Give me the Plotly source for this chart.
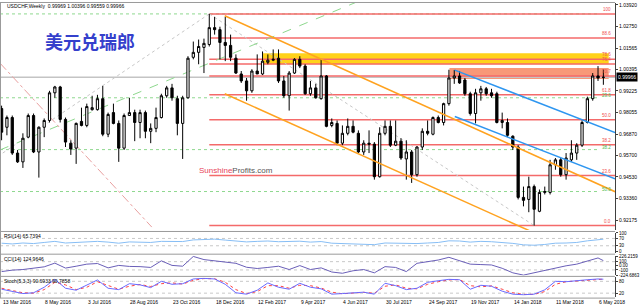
import plotly.graph_objects as go

# ---------------- data (weekly USDCHF bars) ----------------
bar_index = list(range(114))
opens = [0.9826, 0.9724, 0.9777, 0.9583, 0.9535, 0.9670, 0.9788, 0.9589, 0.9724, 0.9761,
         0.9912, 0.9944, 0.9767, 0.9637, 0.9610, 0.9756, 0.9734, 0.9820, 0.9820, 0.9880,
         0.9686, 0.9804, 0.9745, 0.9610, 0.9788, 0.9804, 0.9750, 0.9804, 0.9702, 0.9718,
         0.9777, 0.9896, 0.9939, 0.9880, 0.9745, 0.9885, 1.0106, 1.0133, 1.0160, 1.0176,
         1.0268, 1.0257, 1.0187, 1.0171, 1.0101, 1.0015, 0.9977, 0.9923, 1.0031, 1.0015,
         1.0079, 1.0090, 1.0101, 0.9977, 0.9896, 1.0020, 1.0095, 1.0058, 0.9907, 0.9939,
         0.9880, 1.0004, 0.9734, 0.9745, 0.9637, 0.9691, 0.9729, 0.9691, 0.9589, 0.9637,
         0.9632, 0.9454, 0.9691, 0.9729, 0.9626, 0.9648, 0.9551, 0.9589, 0.9465, 0.9616,
         0.9702, 0.9686, 0.9777, 0.9750, 0.9853, 0.9993, 1.0004, 0.9982, 0.9907, 0.9799,
         0.9912, 0.9934, 0.9912, 0.9907, 0.9750, 0.9750, 0.9675, 0.9616, 0.9341, 0.9330,
         0.9400, 0.9265, 0.9368, 0.9368, 0.9519, 0.9546, 0.9465, 0.9546, 0.9583, 0.9626,
         0.9750, 0.9880, 1.0004, 0.99969]
highs = [0.9842, 0.9788, 0.9788, 0.9600, 0.9691, 0.9799, 0.9799, 0.9729, 0.9772, 0.9923,
         0.9950, 0.9950, 0.9777, 0.9653, 0.9750, 0.9831, 0.9853, 0.9896, 0.9901, 0.9950,
         0.9804, 0.9853, 0.9761, 0.9799, 0.9885, 0.9820, 0.9820, 0.9815, 0.9745, 0.9831,
         0.9907, 0.9950, 0.9961, 0.9896, 0.9896, 1.0112, 1.0192, 1.0203, 1.0208, 1.0343,
         1.0327, 1.0273, 1.0327, 1.0230, 1.0122, 1.0031, 0.9993, 1.0041, 1.0122, 1.0138,
         1.0122, 1.0149, 1.0149, 1.0004, 1.0031, 1.0101, 1.0112, 1.0068, 0.9977, 0.9961,
         1.0095, 1.0009, 0.9772, 0.9761, 0.9734, 0.9772, 0.9761, 0.9707, 0.9653, 0.9707,
         0.9643, 0.9724, 0.9761, 0.9761, 0.9761, 0.9664, 0.9653, 0.9600, 0.9621, 0.9718,
         0.9761, 0.9783, 0.9788, 0.9858, 1.0038, 1.0037, 1.0031, 0.9993, 0.9918, 0.9934,
         0.9950, 0.9944, 0.9934, 0.9918, 0.9804, 0.9772, 0.9680, 0.9626, 0.9400, 0.9454,
         0.9411, 0.9384, 0.9400, 0.9546, 0.9556, 0.9556, 0.9583, 0.9653, 0.9637, 0.9761,
         0.9891, 1.0020, 1.0058, 1.00396]
lows = [0.9653, 0.9680, 0.9573, 0.9529, 0.9502, 0.9664, 0.9583, 0.9449, 0.9670, 0.9750,
        0.9885, 0.9750, 0.9616, 0.9573, 0.9524, 0.9729, 0.9724, 0.9815, 0.9815, 0.9675,
        0.9670, 0.9740, 0.9535, 0.9600, 0.9788, 0.9648, 0.9664, 0.9664, 0.9637, 0.9697,
        0.9772, 0.9885, 0.9869, 0.9680, 0.9551, 0.9880, 1.0095, 1.0068, 1.0020, 1.0165,
        1.0230, 1.0095, 1.0085, 1.0085, 1.0015, 0.9966, 0.9869, 0.9912, 1.0015, 1.0009,
        1.0068, 1.0085, 0.9966, 0.9885, 0.9815, 1.0015, 1.0047, 0.9901, 0.9896, 0.9880,
        0.9875, 0.9724, 0.9724, 0.9626, 0.9626, 0.9680, 0.9691, 0.9583, 0.9573, 0.9583,
        0.9438, 0.9449, 0.9680, 0.9616, 0.9621, 0.9546, 0.9438, 0.9420, 0.9454, 0.9600,
        0.9680, 0.9680, 0.9745, 0.9734, 0.9842, 0.9961, 0.9961, 0.9896, 0.9788, 0.9745,
        0.9869, 0.9896, 0.9885, 0.9745, 0.9718, 0.9670, 0.9600, 0.9330, 0.9292, 0.9260,
        0.9187, 0.9260, 0.9357, 0.9357, 0.9492, 0.9454, 0.9438, 0.9535, 0.9546, 0.9616,
        0.9745, 0.9869, 0.9977, 0.99559]
closes = [0.9697, 0.9777, 0.9583, 0.9535, 0.9664, 0.9788, 0.9589, 0.9724, 0.9761, 0.9912,
          0.9944, 0.9767, 0.9643, 0.9605, 0.9745, 0.9734, 0.9837, 0.9831, 0.9880, 0.9686,
          0.9794, 0.9745, 0.9610, 0.9788, 0.9804, 0.9750, 0.9804, 0.9702, 0.9718, 0.9777,
          0.9896, 0.9939, 0.9885, 0.9745, 0.9885, 1.0101, 1.0133, 1.0165, 1.0182, 1.0268,
          1.0257, 1.0187, 1.0171, 1.0106, 1.0020, 0.9977, 0.9923, 1.0031, 1.0015, 1.0085,
          1.0090, 1.0095, 0.9977, 0.9896, 1.0020, 1.0095, 1.0058, 0.9907, 0.9939, 0.9885,
          1.0004, 0.9729, 0.9750, 0.9637, 0.9691, 0.9729, 0.9697, 0.9589, 0.9637, 0.9632,
          0.9454, 0.9691, 0.9729, 0.9626, 0.9648, 0.9556, 0.9589, 0.9465, 0.9616, 0.9702,
          0.9691, 0.9777, 0.9750, 0.9853, 0.9993, 1.0004, 0.9966, 0.9907, 0.9799, 0.9912,
          0.9934, 0.9907, 0.9896, 0.9750, 0.9761, 0.9680, 0.9616, 0.9341, 0.9325, 0.9400,
          0.9276, 0.9368, 0.9373, 0.9519, 0.9546, 0.9465, 0.9556, 0.9583, 0.9626, 0.9750,
          0.9880, 1.0004, 0.9993, 0.99966]

date_tick_index = [0, 8, 16, 24, 32, 40, 48, 56, 64, 72, 80, 88, 96, 104, 112]
date_tick_text = ["13 Mar 2016", "8 May 2016", "3 Jul 2016", "28 Aug 2016", "23 Oct 2016",
                  "18 Dec 2016", "12 Feb 2017", "9 Apr 2017", "4 Jun 2017", "30 Jul 2017",
                  "24 Sep 2017", "19 Nov 2017", "14 Jan 2018", "11 Mar 2018", "6 May 2018"]
price_ticks = [1.03920, 1.02750, 1.01565, 1.00395, 0.99225, 0.98055, 0.96870, 0.95700,
               0.94530, 0.93360, 0.92175]
last_price = 0.99966

# Fibonacci retracement (red) and the older one (green)
red_fib_prices = [0.9187, 0.9460, 0.9629, 0.9765, 0.9901, 1.0004, 1.0070, 1.0096, 1.0211, 1.0343]
red_fib_text = ["0.0", "23.6", "38.2", "50.0", "61.8", "70.7", "76.4", "78.6", "88.6", "100"]
green_fib_prices = [1.0343, 0.9885, 0.9602, 0.9373, 0.9144]
green_fib_text = ["0.0", "23.6", "38.2", "50.0", "61.8"]

# indicators (sampled every 2 weeks + last bar)
ind_index = list(range(0, 113, 2)) + [113]
rsi = [44, 40, 45, 42, 48, 54, 45, 49, 52, 54, 50, 44, 51, 51, 48, 54, 53, 53, 62, 64,
       66, 61, 55, 51, 54, 56, 52, 54, 55, 50, 53, 44, 42, 43, 41, 36, 45, 43, 41, 42,
       45, 48, 57, 56, 50, 54, 52, 48, 43, 35, 33, 37, 44, 45, 48, 57, 63, 65.7394]
cci = [-140, -105, -90, -55, -25, 65, -55, -10, 40, 55, -50, 10, -15, -20, -40, 120, 10,
       -10, 226.2159, 150, 125, 100, 60, -35, -65, -40, -10, -90, 5, -90, -50, -150, -180,
       -120, -90, -170, -20, -40, -140, 60, 100, 140, 205, 130, 40, 30, 20, -60, -170,
       -224.6863, -170, -100, -45, 0, 40, 110, 190, 124.9646]
stoch_main = [40, 28, 18, 22, 50, 90, 45, 35, 60, 87, 45, 38, 68, 62, 48, 80, 65, 68, 92,
              95, 92, 65, 22, 15, 35, 72, 50, 40, 70, 50, 42, 15, 18, 22, 25, 15, 70, 58,
              38, 45, 75, 83, 90, 88, 40, 60, 55, 30, 15, 12, 15, 37, 80, 78, 84, 88, 92,
              90.6933]
stoch_signal = [45, 32, 22, 20, 38, 75, 62, 38, 50, 78, 58, 40, 55, 64, 54, 68, 72, 66,
                85, 94, 93, 75, 38, 18, 28, 58, 58, 45, 60, 58, 46, 25, 17, 20, 24, 20, 55,
                62, 45, 42, 65, 78, 87, 89, 58, 52, 57, 40, 22, 14, 14, 28, 65, 78, 82, 87,
                91, 90.7858]

# ---------------- layout helpers ----------------
W, H = 640, 308
def fx(px):
    return px / W
def fy(py):
    return 1 - py / H

XR = [-0.3, 115.2]
XDOM = [0, 617 / W]
MAIN = (1, 231)
RSI_P = (234, 254)
CCI_P = (257, 277)
STO_P = (279, 299)
PMAX, PMIN = 1.0408 - 0.000539 * MAIN[0], 1.0408 - 0.000539 * MAIN[1]

FAM = "Liberation Sans, Arial, sans-serif"
small = dict(family=FAM, size=5, color="#000000")
tiny = dict(family=FAM, size=4.5, color="#000000")

fig = go.Figure()
fig.add_trace(go.Candlestick(
    x=bar_index, open=opens, high=highs, low=lows, close=closes,
    increasing=dict(line=dict(color="#000000", width=1), fillcolor="#FFFFFF"),
    decreasing=dict(line=dict(color="#000000", width=1), fillcolor="#000000"),
    whiskerwidth=0, xaxis="x", yaxis="y", showlegend=False, hoverinfo="skip"))

fig.add_trace(go.Scatter(x=ind_index, y=rsi, mode="lines", xaxis="x", yaxis="y2",
                         line=dict(color="#87BEF5", width=1), showlegend=False))
fig.add_trace(go.Scatter(x=ind_index, y=cci, mode="lines", xaxis="x", yaxis="y3",
                         line=dict(color="#6A5FB8", width=1), showlegend=False))
fig.add_trace(go.Scatter(x=ind_index, y=stoch_signal, mode="lines", xaxis="x", yaxis="y4",
                         line=dict(color="#FF4040", width=1, dash="dot"), showlegend=False))
fig.add_trace(go.Scatter(x=ind_index, y=stoch_main, mode="lines", xaxis="x", yaxis="y4",
                         line=dict(color="#6A6AFF", width=1), showlegend=False))

shapes = []
# bands
shapes.append(dict(type="rect", xref="x", yref="y", x0=49.1, x1=114.0, y0=1.0068, y1=1.0128,
                   fillcolor="#FFD21A", line=dict(width=0), layer="below"))
shapes.append(dict(type="rect", xref="x", yref="y", x0=84.1, x1=114.0, y0=0.9988, y1=1.0047,
                   fillcolor="#F89878", line=dict(width=0), layer="below"))
# current price line
shapes.append(dict(type="line", xref="x", yref="y", x0=XR[0], x1=XR[1], y0=last_price, y1=last_price,
                   line=dict(color="#C4C4C4", width=1.5), layer="below"))
# green fib lines
for p in green_fib_prices[:4]:
    shapes.append(dict(type="line", xref="x", yref="y", x0=XR[0], x1=112.0, y0=p, y1=p,
                       line=dict(color="#8FD88F", width=1, dash="dot"), layer="below"))
# red fib lines
for p in red_fib_prices:
    shapes.append(dict(type="line", xref="x", yref="y", x0=39, x1=XR[1], y0=p, y1=p,
                       line=dict(color="#F46A6A", width=1.5), layer="below"))
# fib base diagonals (dotted gray)
shapes.append(dict(type="line", xref="x", yref="y", x0=39, y0=1.0343, x1=100, y1=0.9187,
                   line=dict(color="#C8C8C8", width=1, dash="dot"), layer="below"))
shapes.append(dict(type="line", xref="x", yref="y", x0=39, y0=1.0343, x1=-0.3, y1=0.9573,
                   line=dict(color="#C8C8C8", width=1, dash="dot"), layer="below"))
# green dashed trend line
shapes.append(dict(type="line", xref="x", yref="y", x0=-0.3, y0=0.9600, x1=66.7, y1=1.0408,
                   line=dict(color="#8ED88E", width=1, dash="dash"), layer="below"))
# pink dash-dot line
shapes.append(dict(type="line", xref="x", yref="y", x0=-0.3, y0=1.0074, x1=28.2, y1=0.9179,
                   line=dict(color="#E9A0A0", width=1, dash="dashdot"), layer="below"))
# orange channel
shapes.append(dict(type="line", xref="x", yref="y", x0=41.9, y0=1.0333, x1=115.2, y1=0.9372,
                   line=dict(color="#FFA21F", width=1.5)))
shapes.append(dict(type="line", xref="x", yref="y", x0=41.9, y0=0.9907, x1=99.2, y1=0.9158,
                   line=dict(color="#FFA21F", width=1.5)))
# blue channel
shapes.append(dict(type="line", xref="x", yref="y", x0=85.1, y0=1.0036, x1=115.2, y1=0.9695,
                   line=dict(color="#2E96F0", width=1.5)))
shapes.append(dict(type="line", xref="x", yref="y", x0=85.1, y0=0.9783, x1=115.2, y1=0.9442,
                   line=dict(color="#2E96F0", width=1.5)))
# indicator level lines
for yr, lv in (("y2", 30), ("y2", 70), ("y3", 100), ("y3", -100), ("y4", 20), ("y4", 80)):
    shapes.append(dict(type="line", xref="x", yref=yr, x0=XR[0], x1=XR[1], y0=lv, y1=lv,
                       line=dict(color="#C8C8C8", width=1, dash="dot"), layer="below"))
# panel separators and frame
for py in (0.5, 232.5, 255.5, 278, 300):
    shapes.append(dict(type="line", xref="paper", yref="paper", x0=0, x1=fx(617), y0=fy(py), y1=fy(py),
                       line=dict(color="#9A9A9A", width=1)))
shapes.append(dict(type="line", xref="paper", yref="paper", x0=fx(0.5), x1=fx(0.5), y0=fy(300), y1=fy(0),
                   line=dict(color="#9A9A9A", width=1)))

ann = []
ann.append(dict(text="USDCHF,Weekly  0.99969 1.00396 0.99559 0.99966", xref="paper", yref="paper",
                x=fx(5), y=fy(4.5), xanchor="left", yanchor="middle", showarrow=False, font=small))
ann.append(dict(text="美元兑瑞郎", xref="paper", yref="paper", x=fx(43), y=fy(40),
                xanchor="left", yanchor="middle", showarrow=False,
                font=dict(family="Noto Sans CJK SC", size=18, color="#3440CC", weight="bold")))
ann.append(dict(text="<span style='color:#E8435A'>Sunshine</span><span style='color:#555555'>Profits.com</span>",
                xref="paper", yref="paper", x=fx(198), y=fy(171), xanchor="left", yanchor="middle",
                showarrow=False, font=dict(family=FAM, size=8)))
ann.append(dict(text=f"{last_price:.5f}", xref="paper", yref="y", x=fx(618), y=last_price,
                xanchor="left", yanchor="middle", showarrow=False, bgcolor="#000000",
                borderpad=1, font=dict(family=FAM, size=5, color="#FFFFFF")))
for p, t in zip(red_fib_prices, red_fib_text):
    ann.append(dict(text=t, xref="paper", yref="y", x=fx(615), y=p, xanchor="right", yanchor="bottom",
                    showarrow=False, yshift=0, font=dict(family=FAM, size=4.5, color="#F05050")))
for p, t in zip(green_fib_prices[1:], green_fib_text[1:]):
    ann.append(dict(text=t, xref="paper", yref="y", x=fx(615), y=p, xanchor="right", yanchor="bottom",
                    showarrow=False, yshift=-2, font=dict(family=FAM, size=4.5, color="#4CB84C")))
ann.append(dict(text="RSI(14) 65.7394", xref="paper", yref="paper", x=fx(2), y=fy(237.5),
                xanchor="left", yanchor="middle", showarrow=False, font=small))
ann.append(dict(text="CCI(14) 124.9646", xref="paper", yref="paper", x=fx(2), y=fy(260.5),
                xanchor="left", yanchor="middle", showarrow=False, font=small))
ann.append(dict(text="Stoch(5,3,3) 90.6933 90.7858", xref="paper", yref="paper", x=fx(2), y=fy(282.5),
                xanchor="left", yanchor="middle", showarrow=False, font=small))
for i, t in zip(date_tick_index, date_tick_text):
    ann.append(dict(text=t, xref="x", yref="paper", x=i, y=fy(304), xanchor="left", yanchor="middle",
                    showarrow=False, xshift=-1, font=small))

def yax(dom, rng, tv, tt, font):
    return dict(domain=[fy(dom[1]), fy(dom[0])], range=rng, anchor="x", side="right",
                tickvals=tv, ticktext=tt, ticks="outside", ticklen=2, tickcolor="#404040",
                showline=True, linecolor="#404040", linewidth=1, showgrid=False, zeroline=False,
                tickfont=font, fixedrange=True)

fig.update_layout(
    width=W, height=H, margin=dict(l=0, r=0, t=0, b=0),
    paper_bgcolor="#FFFFFF", plot_bgcolor="#FFFFFF", showlegend=False, boxgap=0.4,
    xaxis=dict(domain=XDOM, range=XR, visible=False, rangeslider=dict(visible=False), fixedrange=True),
    yaxis=yax(MAIN, [PMIN, PMAX], price_ticks, [f"{v:.5f}" for v in price_ticks], small),
    yaxis2=yax(RSI_P, [-8, 100], [0, 30, 70, 100], ["0", "30", "70", "100"], tiny),
    yaxis3=yax(CCI_P, [-232, 245], [-224.6863, -100, 0, 100, 226.2159],
               ["-224.6863", "-100", "0.00", "100", "226.2159"], tiny),
    yaxis4=yax(STO_P, [0, 100], [20, 80], ["20", "80"], tiny),
    shapes=shapes, annotations=ann,
)
fig.write_html("out.html")
